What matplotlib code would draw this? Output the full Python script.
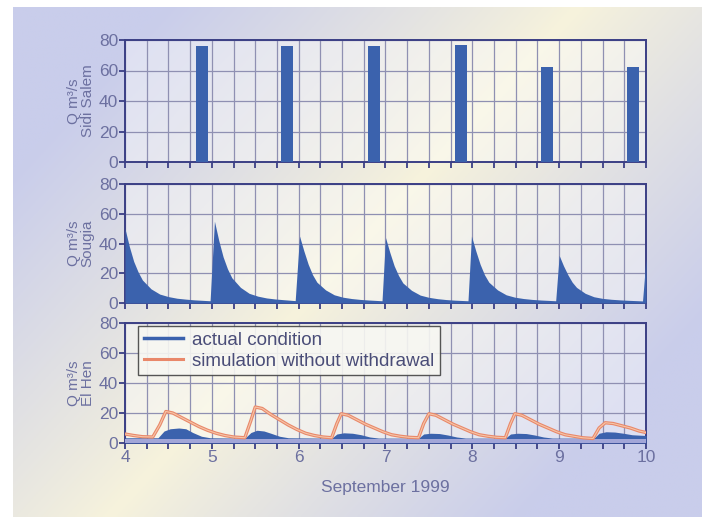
import matplotlib
matplotlib.use("Agg")
import matplotlib.pyplot as plt
import numpy as np
from matplotlib.colors import to_rgb

plt.rcParams['font.family'] = ['Liberation Sans', 'DejaVu Sans']

# Sidi Salem releases (bar start day, discharge)
salem_start = [4.82, 5.80, 6.80, 7.80, 8.79, 9.78]
salem_q = [76, 76, 76, 77, 62, 62]
salem_dur = 0.14

# Sougia hydrograph
sougia_t = [4.00, 4.05, 4.10, 4.15, 4.20, 4.30, 4.40, 4.50, 4.60, 4.70, 4.80, 4.98,
            5.03, 5.08, 5.13, 5.18, 5.23, 5.33, 5.43, 5.53, 5.63, 5.73, 5.83, 5.96,
            6.01, 6.06, 6.11, 6.16, 6.21, 6.31, 6.41, 6.51, 6.61, 6.71, 6.81, 6.96,
            7.00, 7.05, 7.10, 7.15, 7.20, 7.30, 7.40, 7.50, 7.60, 7.70, 7.80, 7.95,
            7.99, 8.04, 8.09, 8.14, 8.19, 8.29, 8.39, 8.49, 8.59, 8.69, 8.79, 8.96,
            9.00, 9.05, 9.10, 9.15, 9.20, 9.30, 9.40, 9.50, 9.60, 9.70, 9.80, 9.96,
            10.00]
sougia_q = [50, 38, 28, 21, 15.5, 9.5, 6, 4.3, 3.2, 2.6, 2.1, 1.5,
            55, 42, 31, 23, 17, 10.5, 6.5, 4.6, 3.4, 2.7, 2.2, 1.6,
            45, 35, 26, 19, 14, 8.8, 5.5, 3.9, 3, 2.4, 2, 1.5,
            44, 34, 25, 18.5, 13.5, 8.5, 5.3, 3.8, 2.9, 2.3, 1.9, 1.5,
            45, 35, 26, 19, 14, 8.8, 5.5, 3.9, 3, 2.4, 2, 1.5,
            32, 25, 19, 14, 10.5, 6.5, 4.2, 3.1, 2.5, 2.1, 1.8, 1.4,
            30]

# El Hen: actual condition
actual_t = [4.00, 4.38, 4.45, 4.52, 4.62, 4.70, 4.78, 4.88, 4.98,
            5.38, 5.45, 5.52, 5.60, 5.68, 5.78, 5.88,
            6.38, 6.44, 6.52, 6.62, 6.72, 6.82, 6.92,
            7.38, 7.44, 7.52, 7.62, 7.72, 7.82, 7.92,
            8.38, 8.44, 8.52, 8.62, 8.72, 8.82, 8.92,
            9.40, 9.46, 9.54, 9.64, 9.74, 9.84, 10.00]
actual_q = [3.5, 3.5, 8, 9.5, 10, 9.5, 7, 4.5, 3.5,
            3.2, 7, 8.5, 8, 6.5, 4.5, 3.5,
            3.2, 6, 6.8, 6.5, 5.5, 4, 3.3,
            3.2, 6, 6.5, 6.3, 5.3, 4, 3.3,
            3.2, 6, 6.5, 6.3, 5.3, 4, 3.3,
            3.2, 6.5, 7.5, 7.3, 6.5, 5.5, 5]

# El Hen: simulation without withdrawal
sim_t = [4.00, 4.10, 4.20, 4.32, 4.40, 4.47, 4.55, 4.65, 4.75, 4.85, 4.95, 5.05, 5.15, 5.25,
         5.38, 5.45, 5.50, 5.58, 5.68, 5.78, 5.88, 5.98, 6.08, 6.18, 6.28,
         6.38, 6.44, 6.49, 6.57, 6.67, 6.77, 6.87, 6.97, 7.07, 7.17, 7.27,
         7.38, 7.44, 7.50, 7.58, 7.68, 7.78, 7.88, 7.98, 8.08, 8.18, 8.28,
         8.38, 8.44, 8.49, 8.57, 8.67, 8.77, 8.87, 8.97, 9.07, 9.17, 9.27,
         9.39, 9.46, 9.53, 9.62, 9.72, 9.82, 9.92, 10.00]
sim_q = [6, 5, 4.2, 4, 12, 21, 20, 17, 14, 11, 8.5, 6.5, 5, 4,
         3.5, 15, 24, 23, 19, 15.5, 12, 9, 6.5, 5, 4,
         3.5, 13, 19.5, 18.5, 15.5, 12.5, 10, 7.5, 5.5, 4.5, 3.8,
         3.5, 13, 19.5, 18.5, 15.5, 12.5, 10, 7.5, 5.5, 4.5, 3.8,
         3.5, 13, 19.5, 18.5, 15.5, 12.5, 10, 7.5, 5.5, 4.5, 3.5,
         3, 10, 13.5, 13, 11.5, 10, 8, 7]

day_ticks = [4, 5, 6, 7, 8, 9, 10]
q_ticks = [0, 20, 40, 60, 80]

navy = '#3b3f85'
text_c = '#6c70a0'
fill_c = '#3b62ad'
grid_c = '#8f90b2'

fig = plt.figure(figsize=(7.07, 5.18), dpi=100)
fig.patch.set_facecolor('white')

# background gradient
bg = fig.add_axes([13/707, 1 - 517/518, 689/707, 510/518], zorder=0)
h, w = 200, 270
v, u = np.mgrid[0:1:h*1j, 0:1:w*1j]
d = np.abs(u - (0.82 - 0.68 * v))
m = np.clip(d / 0.6, 0, 1)[..., None] ** 0.9
yel = np.array(to_rgb('#f7f3dc'))
lav = np.array(to_rgb('#c9cdeb'))
img = yel * (1 - m) + lav * m
bg.imshow(img, aspect='auto', extent=[0, 1, 0, 1], origin='upper')
bg.axis('off')

L, W = 125/707, 521/707
boxes = [(40, 162), (184, 303), (323, 443)]
axes = []
for top, bot in boxes:
    ax = fig.add_axes([L, 1 - bot/518, W, (bot - top)/518], zorder=2)
    axes.append(ax)

labels = ['Q m³/s\nSidi Salem', 'Q m³/s\nSougia', 'Q m³/s\nEl Hen']
for ax, lab in zip(axes, labels):
    ax.set_facecolor((1, 1, 1, 0.4))
    ax.set_xlim(4, 10)
    ax.set_ylim(0, 80)
    ax.set_yticks(q_ticks)
    ax.set_xticks(day_ticks)
    ax.set_xticks(np.arange(4, 10.01, 0.25), minor=True)
    ax.grid(True, which='both', axis='x', color=grid_c, lw=0.9)
    ax.grid(True, which='major', axis='y', color=grid_c, lw=0.9)
    ax.set_axisbelow(True)
    for s in ax.spines.values():
        s.set_color(navy)
        s.set_linewidth(1.4)
    ax.tick_params(axis='both', which='both', direction='out', color=navy,
                   length=4, width=1.3, labelcolor=text_c, labelsize=12.5, pad=1)
    ax.set_ylabel(lab, color=text_c, fontsize=11, linespacing=1.0, labelpad=3)

for ax in axes[:2]:
    ax.tick_params(axis='x', labelbottom=False)

axes[0].bar(salem_start, salem_q, width=salem_dur, align='edge', color=fill_c, zorder=3)

axes[1].fill_between(sougia_t, 0, sougia_q, color=fill_c, lw=0, zorder=3)

ax = axes[2]
ax.fill_between(actual_t, 0, actual_q, color=fill_c, lw=0, zorder=3)
ax.axhspan(0, 2.6, color='#a2a6d8', lw=0, zorder=3.5)
ax.plot(sim_t, sim_q, color='#e9886a', lw=2.4, zorder=4)
ax.plot(sim_t, sim_q, color='#f6c6a8', lw=0.8, zorder=4.5)
ax.plot([], [], color=fill_c, lw=2.5, label='actual condition')
ax.plot([], [], color='#e9886a', lw=2.2, label='simulation without withdrawal')
leg = ax.legend(loc='upper left', bbox_to_anchor=(0.025, 0.975), fontsize=13.5,
                frameon=True, fancybox=False, handlelength=2.1, handletextpad=0.5,
                borderpad=0.3, labelspacing=0.2, borderaxespad=0)
leg.get_frame().set_edgecolor('#444444')
leg.get_frame().set_facecolor('#f7f7f2')
leg.get_frame().set_alpha(0.9)
for t in leg.get_texts():
    t.set_color('#4a4d78')
ax.set_xlabel('September 1999', color=text_c, fontsize=12.5, labelpad=11)

fig.savefig('out.png', dpi=100)
